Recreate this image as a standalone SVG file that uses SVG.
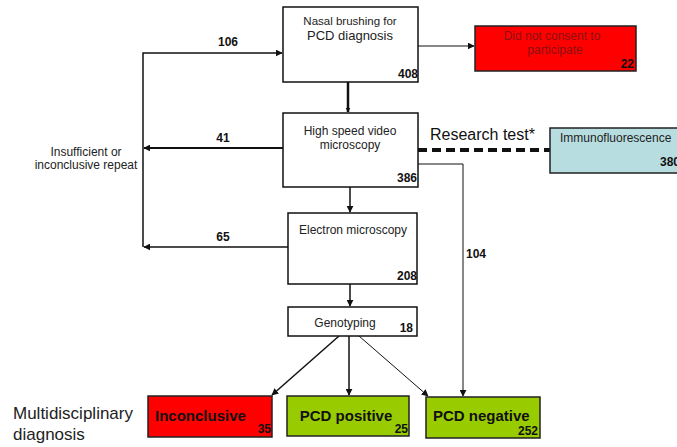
<svg xmlns="http://www.w3.org/2000/svg" width="677" height="447" viewBox="0 0 677 447">
<style>
text{font-family:"Liberation Sans",Arial,sans-serif;fill:#222}
.box{fill:#fff;stroke:#111;stroke-width:1.5}
.red{fill:#ff0000;stroke:#222;stroke-width:1.5}
.grn{fill:#99cc00;stroke:#222;stroke-width:1.5}
.blu{fill:#b7dde0;stroke:#222;stroke-width:1.5}
.lbl{font-size:12px;text-anchor:middle}
.num{font-size:12px;font-weight:bold;text-anchor:end;fill:#111}
.big{font-size:15px;font-weight:bold;fill:#111}
.ln{fill:none;stroke:#111}
</style>
<defs>
<marker id="ah" viewBox="0 0 10 10" refX="9" refY="5" markerWidth="5" markerHeight="5" orient="auto" markerUnits="userSpaceOnUse"><path d="M0,0L10,5L0,10z" fill="#111"/></marker>
<marker id="ahs" viewBox="0 0 10 10" refX="9" refY="5" markerWidth="7" markerHeight="7" orient="auto" markerUnits="userSpaceOnUse"><path d="M0,0L10,5L0,10z" fill="#111"/></marker>
</defs>
<g id="connectors">
<line class="ln" x1="418" y1="46" x2="474" y2="46" stroke-width="1" marker-end="url(#ahs)"/>
<line class="ln" x1="348" y1="82" x2="348" y2="112" stroke-width="2.5" marker-end="url(#ah)"/>
<line class="ln" x1="418" y1="150" x2="550" y2="150" stroke-width="4" stroke-dasharray="9,5"/>
<polyline class="ln" points="418,164 463,164 463,396" stroke-width="1" marker-end="url(#ahs)"/>
<line class="ln" x1="350" y1="187" x2="350" y2="212" stroke-width="1.5" marker-end="url(#ahs)"/>
<line class="ln" x1="350" y1="284" x2="350" y2="306" stroke-width="1.5" marker-end="url(#ahs)"/>
<polyline class="ln" points="143,247 143,53 282,53" stroke-width="1.5" marker-end="url(#ahs)"/>
<line class="ln" x1="283" y1="148" x2="144" y2="148" stroke-width="2" marker-end="url(#ahs)"/>
<line class="ln" x1="288" y1="247" x2="144" y2="247" stroke-width="1.5" marker-end="url(#ahs)"/>
<line class="ln" x1="339" y1="336" x2="272" y2="395" stroke-width="1.5" marker-end="url(#ahs)"/>
<line class="ln" x1="349" y1="336" x2="349" y2="395" stroke-width="1.5" marker-end="url(#ahs)"/>
<line class="ln" x1="359" y1="336" x2="428" y2="396" stroke-width="1" marker-end="url(#ahs)"/>
<text x="228" y="46" class="num" style="text-anchor:middle">106</text>
<text x="223" y="142" class="num" style="text-anchor:middle">41</text>
<text x="223" y="241" class="num" style="text-anchor:middle">65</text>
<text x="466" y="258" class="num" style="text-anchor:start">104</text>
<text x="430" y="140" style="font-size:16px;fill:#111">Research test*</text>
</g>
<g id="nasal">
<rect class="box" x="283" y="7" width="135" height="75"/>
<text x="350" y="25" class="lbl" style="font-size:11.5px">Nasal brushing  for</text>
<text x="350" y="40" class="lbl" style="font-size:13px">PCD diagnosis</text>
<text x="418" y="78" class="num">408</text>
</g>
<g id="noconsent">
<rect class="red" x="475" y="26" width="161" height="45"/>
<text x="552" y="40" class="lbl" style="fill:#8b1010">Did not  consent to</text>
<text x="555" y="54" class="lbl" style="fill:#8b1010">participate</text>
<text x="634" y="68" class="num">22</text>
</g>
<g id="hsvm">
<rect class="box" x="283" y="113" width="135" height="74"/>
<text x="350" y="135" class="lbl">High speed video</text>
<text x="350" y="149" class="lbl">microscopy</text>
<text x="417" y="182" class="num">386</text>
</g>
<g id="immuno">
<rect class="blu" x="550" y="128" width="140" height="45"/>
<text x="560" y="142" style="font-size:12px">Immunofluorescence</text>
<text x="660" y="166" class="num" style="text-anchor:start">380</text>
</g>
<g id="repeat">
<text x="86" y="156" class="lbl">Insufficient  or</text>
<text x="86" y="169" class="lbl">inconclusive  repeat</text>
</g>
<g id="em">
<rect class="box" x="288" y="213" width="129" height="71"/>
<text x="353" y="234" class="lbl">Electron microscopy</text>
<text x="417" y="280" class="num">208</text>
</g>
<g id="geno">
<rect class="box" x="288" y="307" width="129" height="29" stroke-width="1"/>
<text x="345" y="327" class="lbl">Genotyping</text>
<text x="413" y="332" class="num">18</text>
</g>
<g id="mdt">
<text x="13" y="419" style="font-size:17px">Multidisciplinary</text>
<text x="13" y="440" style="font-size:17px">diagnosis</text>
</g>
<g id="inconclusive">
<rect class="red" x="148" y="396" width="124" height="41"/>
<text x="155" y="421" class="big">Inconclusive</text>
<text x="271" y="433" class="num">35</text>
</g>
<g id="positive">
<rect class="grn" x="287" y="396" width="122" height="40"/>
<text x="346" y="421" class="big" style="text-anchor:middle">PCD positive</text>
<text x="408" y="433" class="num">25</text>
</g>
<g id="negative">
<rect class="grn" x="426" y="397" width="114" height="41"/>
<text x="433" y="421" class="big">PCD negative</text>
<text x="538" y="435" class="num">252</text>
</g>
</svg>
